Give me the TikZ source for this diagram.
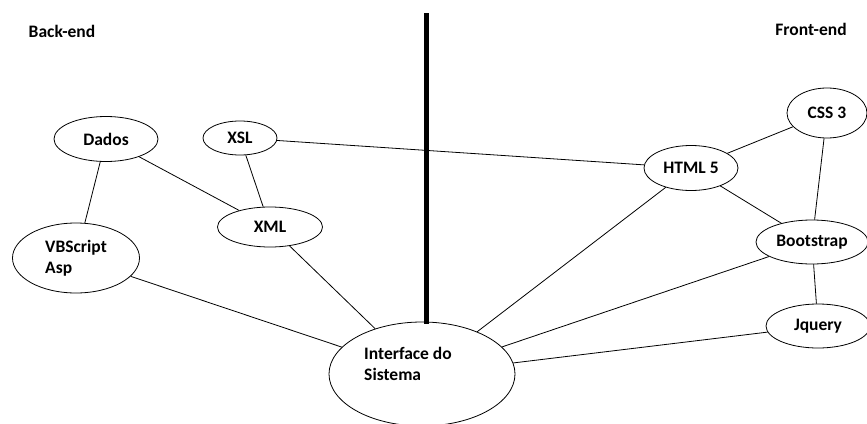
\documentclass[tikz,border=0pt]{standalone}
\usepackage{fontspec}
\setmainfont{Carlito}
\usetikzlibrary{shapes.geometric}
\tikzset{
  tec/.style={ellipse, draw, line width=0.8pt, inner sep=0pt, font=\bfseries\fontsize{17.5}{21}\selectfont, align=left},
  lado/.style={font=\bfseries\fontsize{17.5}{21}\selectfont}
}
\begin{document}
\begin{tikzpicture}[x=1pt,y=-1pt,line width=0.8pt]
            \useasboundingbox[fill=white] (0,0) rectangle (867,423);
            \node[lado]                                       (back)  at (62,31)   {Back-end};
            \node[lado]                                       (front) at (811,29)  {Front-end};
            \coordinate (topo) at (426,13);
            \coordinate (base) at (426,324);
            \draw[line width=5pt] (topo) -- (base); % divisao back/front
            \node[tec, minimum width=104, minimum height=45] (dados) at (106,139) {Dados};
            \node[tec, minimum width=74,  minimum height=34] (xsl)   at (240,138) {XSL};
            \node[tec, minimum width=105, minimum height=40] (xml)   at (270,227) {XML};
            \node[tec, minimum width=127, minimum height=70] (vbs)   at (76,258)  {VBScript\\Asp};
            \node[tec, minimum width=186, minimum height=104](inter) at (422,374) {Interface do\rule{28pt}{0pt}\\Sistema\\\mbox{}}; % linha vazia sobe o texto
            \node[tec, minimum width=94,  minimum height=45] (html)  at (691,168) {HTML 5};
            \node[tec, minimum width=80,  minimum height=50] (css)   at (827,113) {CSS 3};
            \node[tec, minimum width=112, minimum height=44] (boot)  at (812,242) {Bootstrap};
            \node[tec, minimum width=104, minimum height=44] (jq)    at (818,326) {Jquery};
            \path[draw]
            (dados) edge (vbs)
            (dados) edge (xml)
            (xsl)   edge (xml)
            (xsl)   edge (html)
            (xml)   edge (inter)
            (vbs)   edge (inter)
            (html)  edge (css)
            (html)  edge (boot)
            (css)   edge (boot)
            (html)  edge (inter)
            (boot)  edge (inter)
            (boot)  edge (jq)
            (jq)    edge (inter);
        \end{tikzpicture}
\end{document}
